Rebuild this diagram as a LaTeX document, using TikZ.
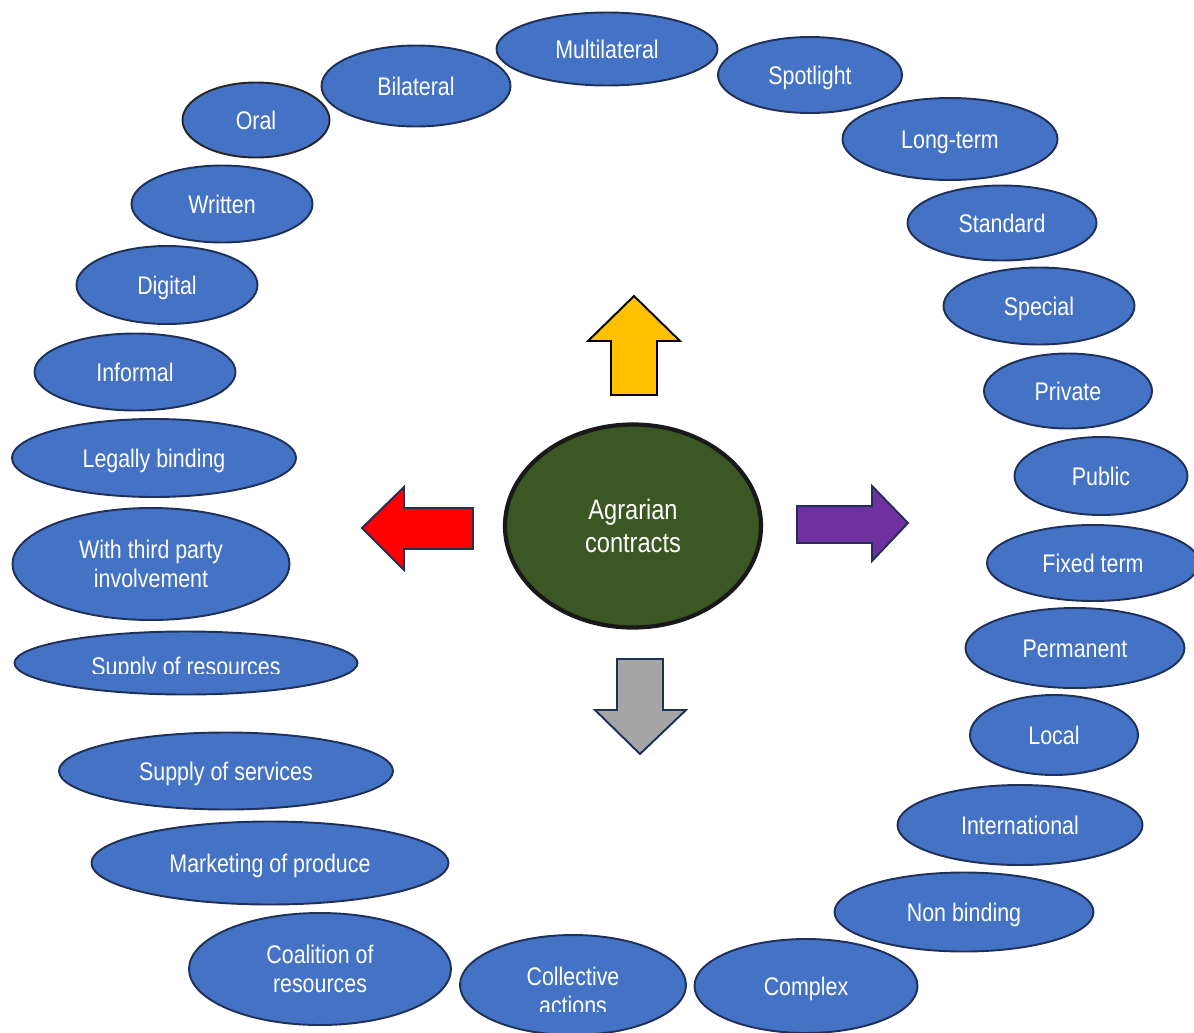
\documentclass[tikz,border=0pt]{standalone}
\usepackage{fontspec}
\setmainfont{Liberation Sans}[FakeStretch=0.84]
\usetikzlibrary{shapes.geometric}

\definecolor{itemfill}{HTML}{4472C4}
\definecolor{itemline}{HTML}{1F3158}
\definecolor{coregreen}{HTML}{3B5724}
\definecolor{upyellow}{HTML}{FFC000}
\definecolor{rightpurple}{HTML}{7030A0}
\definecolor{downgray}{HTML}{A5A5A5}

\begin{document}
\begin{tikzpicture}[x=0.02cm, y=-0.02cm,
      item/.style={ellipse, draw=itemline, fill=itemfill, line width=1.1pt, inner sep=0pt,
        text=white, align=center, text height=10.4pt, text depth=0pt,
        font=\fontsize{14.5}{16.5}\selectfont},
      twolines/.style={text height=26.9pt},
      sz/.style 2 args={minimum width=#1*0.02cm, minimum height=#2*0.02cm},
      lbl/.style={text=white, align=center, inner sep=0pt, font=\fontsize{14.5}{16.5}\selectfont},
      bigarrow/.style={draw=itemline, line width=1.1pt, line join=miter}]
      \useasboundingbox (0,0) rectangle (1194,1032);

      \node[item, sz={221}{73}] (multi) at (607,49) {Multilateral};
      \node[item, sz={189}{81}] (bilat) at (416,86) {Bilateral};
      \node[item, sz={147}{75}, draw=black!85] (oral) at (256,120) {Oral};
      \node[item, sz={184}{76}] (spot) at (810,75) {Spotlight};
      \node[item, sz={215}{82}] (longt) at (950,139) {Long-term};
      \node[item, sz={189}{75}] (stand) at (1002,223) {Standard};
      \node[item, sz={191}{77}] (spec) at (1039,306) {Special};
      \node[item, sz={168}{75}] (priv) at (1068,391) {Private};
      \node[item, sz={173}{78}] (publ) at (1101,476) {Public};
      \node[item, sz={212}{76}] (fixt) at (1093,563) {Fixed term};
      \node[item, sz={219}{80}] (perm) at (1075,648) {Permanent};
      \node[item, sz={168}{80}] (local) at (1054,735) {Local};
      \node[item, sz={245}{80}] (inter) at (1020,825) {International};
      \node[item, sz={259}{79}] (nonb) at (964,912) {Non binding};
      \node[item, sz={223}{94}] (compl) at (806,986) {Complex};
      \node[item, sz={226}{100}] (coll) at (573,985) {};
      \node[item, twolines, sz={262}{112}] (coal) at (320,969) {Coalition of\\resources};
      \node[item, sz={357}{83}] (market) at (270,863) {Marketing of produce};
      \node[item, sz={334}{77}] (servs) at (226,771) {Supply of services};
      \node[item, sz={343}{63}] (ress) at (186,663) {};
      \node[item, twolines, sz={277}{112}] (third) at (151,564) {With third party\\involvement};
      \node[item, sz={284}{78}] (legal) at (154,458) {Legally binding};
      \node[item, sz={201}{77}] (infor) at (135,372) {Informal};
      \node[item, sz={181}{78}] (digit) at (167,285) {Digital};
      \node[item, sz={181}{77}] (writ) at (222,204) {Written};

      \begin{scope}
        \clip (0,0) rectangle (1194,673);
        \node[lbl, anchor=base] (resslbl) at (186,675) {Supply of resources};
      \end{scope}
      \begin{scope}
        \clip (0,0) rectangle (1194,1011);
        \node[lbl, anchor=base] (colllbl) at (573,1014) {Collective\\actions};
      \end{scope}

      \node[item, sz={256}{203}, fill=coregreen, draw=black!90, line width=2.4pt, text height=30.2pt,
        font=\fontsize{16}{18.7}\selectfont] (core) at (633,526) {Agrarian\\contracts};

      \filldraw[bigarrow, fill=upyellow, draw=black] (611,395) -- (611,341) -- (588,341) -- (634,296)
        -- (680,341) -- (657,341) -- (657,395) -- cycle;
      \filldraw[bigarrow, fill=red] (473,508) -- (404,508) -- (404,487) -- (362,528)
        -- (404,570) -- (404,549) -- (473,549) -- cycle;
      \filldraw[bigarrow, fill=rightpurple] (797,506) -- (872,506) -- (872,486) -- (908,523)
        -- (872,561) -- (872,543) -- (797,543) -- cycle;
      \filldraw[bigarrow, fill=downgray] (617,659) -- (663,659) -- (663,710) -- (686,710)
        -- (640,754) -- (595,710) -- (617,710) -- cycle;
    \end{tikzpicture}
\end{document}
